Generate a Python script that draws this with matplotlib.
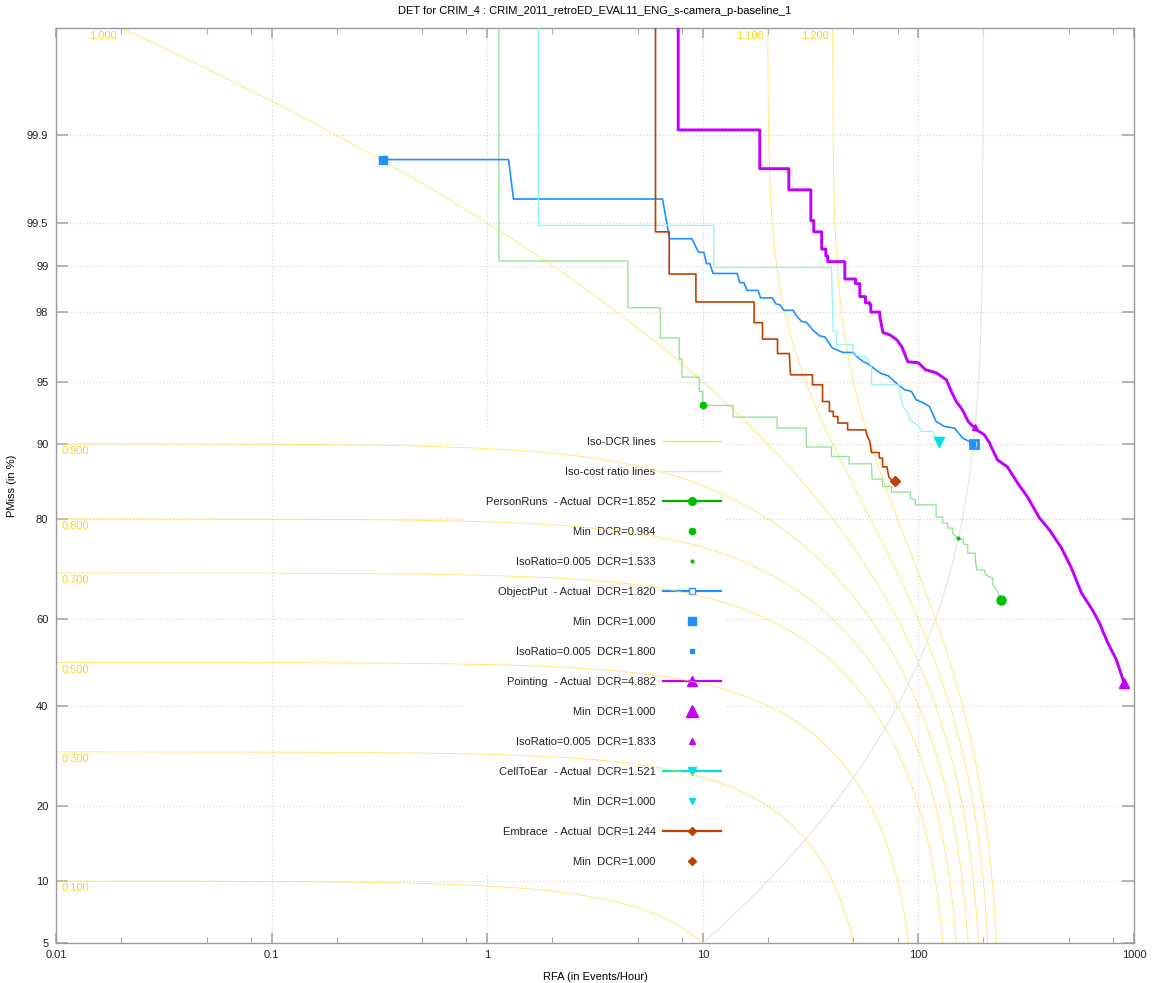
import numpy as np
import matplotlib
matplotlib.use('Agg')
import matplotlib.pyplot as plt
from matplotlib.lines import Line2D
from matplotlib.patches import Rectangle
from matplotlib.ticker import LogLocator, NullLocator, NullFormatter
from statistics import NormalDist

plt.rcParams['font.family'] = ['Liberation Sans', 'DejaVu Sans']
plt.rcParams['font.size'] = 8

title = 'DET for CRIM_4 : CRIM_2011_retroED_EVAL11_ENG_s-camera_p-baseline_1'

# cost model
beta = 0.005
iso_ratio = 0.005
iso_dcr = [0.1, 0.3, 0.5, 0.7, 0.8, 0.9, 1.0, 1.1, 1.2]

x_lim = [0.01, 1000]
y_lim = [5, 99.99]
x_ticks = [0.01, 0.1, 1, 10, 100, 1000]
x_ticklabels = ['0.01', '0.1', '1', '10', '100', '1000']
y_ticks = [5, 10, 20, 40, 60, 80, 90, 95, 98, 99, 99.5, 99.9]
y_ticklabels = ['5', '10', '20', '40', '60', '80', '90', '95', '98', '99', '99.5', '99.9']

# DET curves, RFA (events/hour) vs PMiss (%)
personruns_rfa = [1.133, 1.133, 4.494, 4.494, 6.345, 6.345, 7.772, 7.772, 8.00, 8.00, 9.62, 9.62,
                  9.99, 9.99, 13.82, 13.82, 22.11, 22.11, 30.20, 30.20, 39.54, 39.54, 47.66, 47.66,
                  60.60, 61.0, 68.17, 68.17, 75.04, 75.04, 91.82, 91.82, 96.85, 96.85, 120.8, 120.8,
                  129.7, 129.7, 136.8, 136.8, 144.5, 144.5, 153.8, 161.7, 161.7, 169.3, 169.3, 183.8,
                  183.8, 186.4, 202.4, 204.6, 221.6, 221.6, 230.8, 241.9]
personruns_pmiss = [99.9999, 99.07, 99.07, 98.12, 98.12, 97.14, 97.14, 96.23, 96.23, 95.28, 95.28, 94.39,
                    94.39, 93.40, 93.40, 92.48, 92.48, 91.52, 91.52, 89.66, 89.66, 88.63, 88.63, 87.78,
                    87.78, 85.87, 85.87, 84.87, 84.87, 84.09, 84.09, 83.22, 82.97, 82.22, 82.22, 80.28,
                    80.28, 79.29, 79.29, 78.44, 78.44, 77.45, 76.56, 76.56, 75.65, 75.46, 73.91, 73.91,
                    72.61, 70.63, 70.63, 69.61, 68.93, 67.53, 66.47, 64.30]

objectput_rfa = [0.3286, 1.256, 1.324, 6.505, 7.009, 8.90, 9.55, 10.11, 10.40, 10.78, 11.16, 14.43,
                 14.85, 15.50, 16.05, 18.05, 18.52, 21.05, 21.81, 22.76, 23.75, 26.23, 27.21, 28.70,
                 30.27, 32.48, 34.88, 36.81, 39.96, 44.74, 49.79, 51.63, 55.40, 58.44, 62.79, 67.44,
                 72.36, 80.50, 86.48, 92.90, 97.57, 104.7, 112.5, 120.8, 132.0, 146.9, 160.5, 172.4, 181.8]
objectput_pmiss = [99.84, 99.84, 99.67, 99.67, 99.35, 99.35, 99.19, 99.19, 99.03, 99.03, 98.87, 98.87,
                   98.70, 98.70, 98.54, 98.54, 98.37, 98.37, 98.22, 98.20, 98.05, 98.05, 97.89, 97.72,
                   97.69, 97.42, 97.22, 97.18, 96.73, 96.54, 96.54, 96.36, 96.11, 96.00, 95.72, 95.47,
                   95.36, 94.82, 94.50, 94.39, 93.82, 93.62, 93.32, 92.11, 91.67, 91.52, 90.57, 90.23, 90.0]

pointing_rfa = [7.69, 7.69, 18.38, 18.38, 25.06, 25.06, 31.7, 31.7, 32.7, 32.7, 35.6, 35.6, 37.2, 37.2,
                38.0, 38.0, 45.57, 45.57, 51.08, 51.08, 53.49, 53.49, 56.8, 56.8, 59.5, 59.5, 60.15, 60.15,
                66.22, 66.22, 68.5, 73.7, 79.4, 83.8, 89.3, 100.0, 107.8, 121.2, 134.9, 142.3, 150.1, 160.0,
                170.6, 185.8, 202.4, 213.5, 232.5, 258.6, 287.9, 320.3, 364.0, 405.1, 460.6, 512.3, 570.2,
                641.3, 691.0, 752.5, 828.6, 898.6]
pointing_pmiss = [99.9999, 99.91, 99.91, 99.81, 99.81, 99.72, 99.72, 99.52, 99.52, 99.42, 99.42, 99.23,
                  99.23, 99.14, 99.14, 99.06, 99.06, 98.77, 98.77, 98.68, 98.68, 98.40, 98.40, 98.25, 98.25,
                  98.20, 98.20, 98.00, 98.00, 97.87, 97.34, 97.26, 97.07, 96.79, 96.10, 96.05, 95.69, 95.52,
                  95.12, 94.37, 93.67, 93.07, 92.08, 91.36, 90.89, 90.10, 88.25, 87.42, 85.38, 83.41, 80.16,
                  78.15, 74.91, 71.03, 65.82, 62.09, 59.16, 54.78, 50.59, 45.22]

celltoear_rfa = [1.729, 1.729, 11.25, 11.25, 39.54, 40.21, 41.71, 41.71, 49.79, 49.79, 57.45, 60.60,
                 60.60, 81.36, 82.0, 84.92, 89.58, 91.24, 101.1, 102.9, 116.5, 118.6, 124.2]
celltoear_pmiss = [99.9999, 99.48, 99.48, 98.97, 98.97, 97.38, 97.38, 96.87, 96.87, 96.43, 96.33, 95.85,
                   94.82, 94.82, 94.28, 93.32, 92.81, 92.25, 91.67, 91.21, 91.21, 90.73, 90.20]

embrace_rfa = [6.034, 6.034, 6.985, 6.985, 9.29, 9.29, 17.29, 17.29, 18.92, 18.92, 22.21, 22.21, 25.19,
               25.52, 32.27, 32.27, 35.92, 35.92, 38.66, 38.66, 40.30, 40.30, 42.29, 42.29, 46.95, 46.95,
               57.02, 57.64, 59.51, 60.60, 65.88, 65.88, 68.23, 68.23, 71.45, 73.00, 74.89, 77.98]
embrace_pmiss = [99.9999, 99.42, 99.42, 98.86, 98.86, 98.27, 98.27, 97.68, 97.68, 97.10, 97.10, 96.49,
                 96.49, 95.41, 95.41, 94.82, 94.82, 93.69, 93.69, 92.94, 92.94, 92.53, 92.53, 91.97, 91.97,
                 91.36, 91.36, 90.89, 90.23, 89.07, 89.07, 88.45, 88.45, 87.42, 87.42, 86.13, 85.78, 85.64]

events = ['PersonRuns', 'ObjectPut', 'Pointing', 'CellToEar', 'Embrace']
actual_dcr = [1.852, 1.820, 4.882, 1.521, 1.244]
actual_rfa = [241.9, 181.8, 898.6, 124.2, 77.98]
actual_pmiss = [64.30, 90.0, 45.22, 90.15, 85.64]
min_dcr = [0.984, 1.000, 1.000, 1.000, 1.000]
min_rfa = [10.0, 0.3286, None, None, None]      # None: min at RFA=0, off the log axis
min_pmiss = [93.40, 99.84, None, None, None]
isor_dcr = [1.533, 1.800, 1.833, None, None]
isor_rfa = [153.3, 180.0, 183.3, None, None]
isor_pmiss = [76.65, 90.0, 91.65, None, None]

curves = [(personruns_rfa, personruns_pmiss), (objectput_rfa, objectput_pmiss),
          (pointing_rfa, pointing_pmiss), (celltoear_rfa, celltoear_pmiss),
          (embrace_rfa, embrace_pmiss)]

# styles
mark_colors = ['#00c000', '#1e90ff', '#c000ff', '#00e0e0', '#c04000']
line_colors = ['#8ee28e', '#1e90ff', '#c000ff', '#8ff5f5', '#c04000']
line_widths = [0.9, 1.2, 2.1, 0.9, 1.2]
markers = ['o', 's', '^', 'v', 'D']
act_size = [6.5, 6, 7.5, 7, 5.5]
min_size = [4.5, 6, 8, 5, 4]
iso_size = [2, 3, 4.5, 3, 3]
gold = '#ffdc3a'
gold_txt = '#ffd21a'
ratio_grey = '#e4e4e4'


_nd = NormalDist()
_ppf = np.vectorize(_nd.inv_cdf, otypes=[float])
_cdf = np.vectorize(_nd.cdf, otypes=[float])


def pmiss_fwd(p):
    p = np.clip(np.asarray(p, dtype=float) / 100.0, 1e-12, 1 - 1e-12)
    return _ppf(p)


def pmiss_inv(z):
    return 100.0 * _cdf(np.asarray(z, dtype=float))


fig = plt.figure(figsize=(11.54, 9.83), dpi=100)
ax = fig.add_axes([56 / 1154, 40 / 983, 1078 / 1154, 915 / 983])
ax.set_xscale('log')
ax.set_yscale('function', functions=(pmiss_fwd, pmiss_inv))
ax.set_xlim(x_lim)
ax.set_ylim(y_lim)
ax.set_axisbelow(True)

ax.set_xticks(x_ticks, labels=x_ticklabels)
ax.xaxis.set_minor_locator(LogLocator(base=10, subs=[2, 5, 8]))
ax.xaxis.set_minor_formatter(NullFormatter())
ax.set_yticks(y_ticks, labels=y_ticklabels)
ax.yaxis.set_minor_locator(NullLocator())
ax.tick_params(which='both', direction='in', top=True, right=True, color='#a8a8a8',
               labelcolor='#222222', labelsize=8)
ax.tick_params(axis='x', which='major', length=7.2, width=1.2, pad=5)
ax.tick_params(axis='x', which='minor', length=4, width=0.8)
ax.tick_params(axis='y', which='major', length=8.6, width=1.2, pad=5.5)
for sp in ax.spines.values():
    sp.set_color('#9a9a9a')
    sp.set_linewidth(1.0)
ax.grid(True, which='major', color='#d4d4d4', linestyle=(0, (1, 2)), linewidth=0.8)

# iso-DCR lines
top = y_lim[1] / 100
for d in iso_dcr:
    lo = max(x_lim[0], (d - top) / beta)
    hi = (d - y_lim[0] / 100) / beta
    r = np.geomspace(lo, hi, 500)
    ax.plot(r, 100 * (d - beta * r), color=gold, lw=0.6, alpha=0.75, zorder=2)
    if d < top:
        ax.annotate('%.3f' % d, xy=(x_lim[0], 100 * (d - beta * x_lim[0])), xytext=(4, -1.5),
                    textcoords='offset points', ha='left', va='top', color=gold_txt, fontsize=8, zorder=2)
    else:
        ax.annotate('%.3f' % d, xy=(lo, y_lim[1]), xytext=(-3, -6), textcoords='offset points',
                    ha='right', va='center', color=gold_txt, fontsize=8, zorder=2)

# iso-cost ratio line
r = np.geomspace(y_lim[0] / 100 / iso_ratio, top / iso_ratio, 300)
ax.plot(r, 100 * iso_ratio * r, color=ratio_grey, lw=0.8, zorder=2)

# DET curves and operating points
for i, (rx, py) in enumerate(curves):
    ax.plot(rx, py, color=line_colors[i], lw=line_widths[i], zorder=3)
    mfc = '#d8ecff' if markers[i] == 's' else mark_colors[i]
    ax.plot(actual_rfa[i], actual_pmiss[i], marker=markers[i], ms=act_size[i], color=mark_colors[i],
            mfc=mfc, mew=2.0 if markers[i] == 's' else 1.0, zorder=4)
    if min_rfa[i] is not None:
        ax.plot(min_rfa[i], min_pmiss[i], marker=markers[i], ms=min_size[i], color=mark_colors[i],
                ls='none', zorder=4)
    if isor_rfa[i] is not None:
        ax.plot(isor_rfa[i], isor_pmiss[i], marker=markers[i], ms=iso_size[i], color=mark_colors[i],
                ls='none', zorder=4)

# legend
handles = [Line2D([], [], color=gold, lw=1.0), Line2D([], [], color=ratio_grey, lw=1.0)]
labels = ['Iso-DCR lines', 'Iso-cost ratio lines']
for i, ev in enumerate(events):
    mfc = 'white' if markers[i] == 's' else mark_colors[i]
    lc = mark_colors[i] if i != 0 else '#00b000'
    handles.append(Line2D([], [], color=lc, lw=1.6, marker=markers[i], ms=act_size[i] - 1,
                          mfc=mfc, mec=mark_colors[i]))
    labels.append('%s  - Actual  DCR=%.3f' % (ev, actual_dcr[i]))
    handles.append(Line2D([], [], ls='none', marker=markers[i], ms=min_size[i], color=mark_colors[i]))
    labels.append('Min  DCR=%.3f' % min_dcr[i])
    if isor_dcr[i] is not None:
        handles.append(Line2D([], [], ls='none', marker=markers[i], ms=iso_size[i], color=mark_colors[i]))
        labels.append('IsoRatio=%.3f  DCR=%.3f' % (iso_ratio, isor_dcr[i]))

leg = ax.legend(handles, labels, loc='upper right', bbox_to_anchor=(0.617, 0.5535), frameon=False,
                markerfirst=False, handlelength=5.2, handletextpad=0.7, labelspacing=1.8,
                borderpad=0, borderaxespad=0, fontsize=8, numpoints=1)
leg.set_zorder(1.2)
for t in leg.get_texts():
    t.set_color('#222222')

ax.set_title(title, fontsize=8, pad=10)
ax.set_xlabel('RFA (in Events/Hour)', fontsize=8, labelpad=9)
ax.set_ylabel('PMiss (in %)', fontsize=8, labelpad=7)

# opaque key box: hides the grid but not the curves
fig.canvas.draw()
bb = leg.get_window_extent()
inv = ax.transAxes.inverted()
(bx0, by0), (bx1, by1) = inv.transform([[bb.x0 - 22, bb.y0 - 6], [bb.x1 + 5, bb.y1 + 9]])
ax.add_patch(Rectangle((bx0, by0), bx1 - bx0, by1 - by0, transform=ax.transAxes,
                       facecolor='white', edgecolor='none', zorder=1))

fig.savefig('out.png', dpi=100)
